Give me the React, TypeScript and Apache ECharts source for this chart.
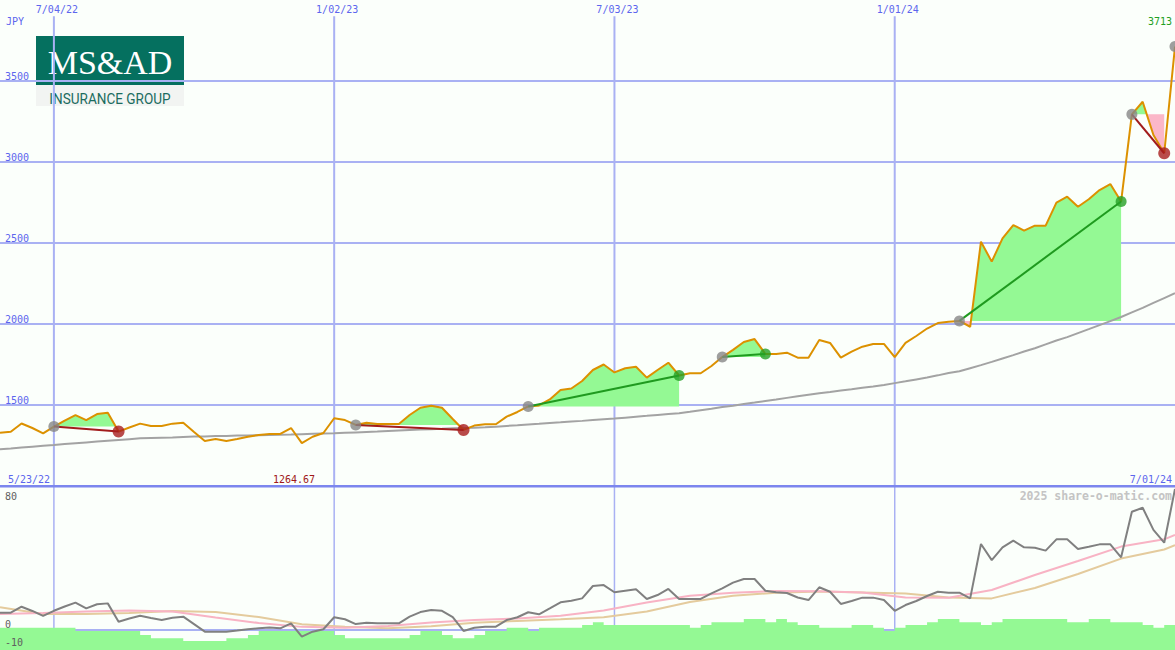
import React, { useEffect, useRef } from 'react';
import * as echarts from 'echarts';

// ---- data (weekly, index 0 = 5/30/22 ... index 109 = 7/01/24) ----
const tickIdx = [5, 31, 57, 83];
const tickLabels = ['7/04/22', '1/02/23', '7/03/23', '1/01/24'];

const price = [
  1329, 1335, 1386, 1358, 1325, 1367, 1404, 1438, 1407, 1444,
  1452, 1336, 1361, 1385, 1370, 1370, 1385, 1391, 1333, 1278,
  1290, 1278, 1290, 1304, 1315, 1321, 1321, 1358, 1264.67, 1304,
  1327, 1418, 1407, 1377, 1391, 1383, 1383, 1383, 1438, 1483,
  1496, 1483, 1414, 1346, 1373, 1381, 1381, 1428, 1457, 1491,
  1497, 1534, 1593, 1602, 1648, 1716, 1750, 1701, 1727, 1736,
  1669, 1716, 1761, 1682, 1696, 1696, 1741, 1796, 1840, 1889,
  1907, 1815, 1815, 1823, 1792, 1792, 1901, 1883, 1792, 1829,
  1860, 1877, 1877, 1796, 1883, 1926, 1972, 2006, 2014, 2019,
  1983, 2508, 2385, 2529, 2611, 2576, 2607, 2607, 2749, 2786,
  2724, 2770, 2827, 2864, 2756, 3294, 3372, 3167, 3054, 3713,
];

const priceMA = [
  1227, 1232, 1238, 1243, 1248, 1253, 1259, 1264, 1269, 1274,
  1279, 1284, 1289, 1294, 1296, 1298, 1300, 1303, 1305, 1306,
  1308, 1309, 1311, 1312, 1314, 1315, 1317, 1318, 1320, 1322,
  1324, 1325, 1328, 1331, 1334, 1336, 1339, 1342, 1345, 1348,
  1351, 1353, 1356, 1358, 1360, 1362, 1366, 1371, 1375, 1380,
  1384, 1389, 1393, 1398, 1402, 1407, 1412, 1416, 1422, 1428,
  1433, 1439, 1444, 1449, 1458, 1468, 1477, 1487, 1496, 1506,
  1515, 1525, 1534, 1544, 1554, 1563, 1572, 1580, 1589, 1597,
  1606, 1614, 1624, 1635, 1646, 1658, 1670, 1683, 1697, 1708,
  1727, 1746, 1766, 1787, 1808, 1830, 1850, 1874, 1898, 1919,
  1944, 1968, 1993, 2018, 2043, 2072, 2100, 2130, 2160, 2190,
];

const tradeStart = [5, 33, 49, 67, 89, 105];
const tradeEnd = [11, 43, 63, 71, 104, 108];
const openIdx = [109];

const osc = [
  9.4, 9.4, 12.6, 10.3, 7.6, 10.4, 12.7, 14.8, 11.7, 13.9,
  14.4, 4.5, 6.2, 7.7, 6.5, 5.4, 6.6, 7.2, 3.2, -0.9,
  -0.9, -0.9, -0.3, 0.4, 0.9, 1.4, 0.9, 3.6, -3.6, -0.9,
  0.4, 6.9, 5.8, 3.2, 3.9, 3.6, 3.6, 3.6, 7.2, 9.7,
  10.8, 10.4, 7.0, -0.5, 1.2, 1.8, 1.8, 5.4, 6.9, 9.6,
  8.5, 11.7, 15.0, 15.8, 17.1, 23.8, 24.3, 20.4, 21.2, 22.0,
  16.8, 18.9, 22.2, 16.8, 16.8, 16.8, 19.8, 22.5, 25.6, 27.6,
  27.6, 21.2, 20.4, 20.0, 17.6, 16.2, 23.1, 20.7, 14.1, 15.7,
  17.5, 17.5, 16.2, 10.4, 13.5, 15.7, 18.4, 20.7, 20.2, 20.2,
  17.1, 46.5, 37.8, 44.7, 48.3, 44.7, 44.5, 42.9, 49.0, 49.0,
  43.8, 45.0, 46.3, 46.3, 39.3, 63.9, 66.1, 54.1, 47.2, 76.2,
];

const maIdx = [0, 4, 8, 12, 16, 20, 24, 28, 32, 36, 40, 44, 48, 52, 56, 60, 64, 68, 72, 76, 80, 84, 88, 92, 96, 100, 104, 108, 109];
const oscFast = [8.6, 9.2, 10.0, 10.5, 10.0, 6.8, 3.8, 1.7, 1.2, 2.2, 4.1, 5.4, 6.2, 7.7, 10.5, 14.9, 18.5, 20.1, 21.1, 20.9, 20.3, 17.6, 17.5, 21.6, 29.7, 37.3, 45.1, 49.0, 51.4];
const oscSlow = [12.3, 8.6, 8.6, 9.2, 10.3, 9.7, 7.0, 3.1, 1.8, 0.9, 2.0, 3.9, 4.9, 5.8, 6.9, 10.0, 15.1, 18.5, 20.2, 20.8, 20.3, 19.7, 17.6, 17.1, 22.7, 30.3, 38.6, 43.5, 45.9];

const strength = [
  1.2, 1.2, 1.2, 1.2, 1.2, 1.2, 1.2, -0.5, -0.5, -0.5,
  -0.5, -0.5, -0.5, -2.7, -4.5, -4.5, -4.5, -6.0, -6.0, -6.0,
  -6.0, -4.5, -4.5, -2.7, -0.5, -0.5, -0.5, -0.5, -0.5, -0.5,
  -0.5, -2.7, -4.5, -4.5, -4.5, -4.5, -4.5, -4.5, -2.7, -0.5,
  -0.5, -2.7, -4.5, -4.5, -2.7, -0.5, -0.5, 1.2, 1.2, -0.5,
  1.2, 1.2, 1.2, 1.2, 2.7, 4.2, 2.7, 2.7, 2.7, 2.7,
  2.7, 2.7, 2.7, 2.7, 1.2, 2.7, 4.2, 4.2, 4.2, 6.0,
  6.0, 4.2, 6.0, 4.2, 2.7, 2.7, 1.2, 1.2, 1.2, 2.7,
  2.7, 1.2, -0.5, 1.2, 2.7, 2.7, 4.2, 6.0, 6.0, 4.2,
  4.2, 2.7, 4.2, 6.0, 6.0, 6.0, 6.0, 6.0, 6.0, 4.2,
  4.2, 6.0, 6.0, 4.2, 4.2, 4.2, 2.7, 1.2, 2.7, 2.7,
];

const lastPriceLabel = '3713';
const minPriceLabel = '1264.67';
const startDateLabel = '5/23/22';
const endDateLabel = '7/01/24';

// ---- styles ----
const MAIN_MIN = 1000;
const MAIN_MAX = 4000;
const LOW_MIN = -10.8;
const LOW_MAX = 77.3;
const MONO = '"DejaVu Sans Mono", monospace';
const GRID_C = '#a9b1f3';
const AXIS_TXT = '#5c66ee';
const GREEN_FILL = '#94f994';
const PINK_FILL = '#fbb7c8';

function txt(x: number, y: number, text: string, fill: string, align: string, font = `10px ${MONO}`) {
  return {
    type: 'text', x, y, silent: true, z: 50,
    style: { text, fill, font, align, textAlign: align, verticalAlign: 'middle', textVerticalAlign: 'middle' },
  };
}

function buildOption(): any {
  const pts = (arr: number[]) => arr.map((v, i) => [i, v]);
  return {
    animation: false,
    backgroundColor: '#fbfffb',
    grid: [
      { left: 0, right: 0, top: 0, height: 486 },
      { left: 0, right: 0, top: 487, height: 163 },
    ],
    xAxis: [
      { gridIndex: 0, type: 'value', min: 0, max: 109, show: false },
      { gridIndex: 1, type: 'value', min: 0, max: 109, show: false },
    ],
    yAxis: [
      {
        gridIndex: 0, type: 'value', min: MAIN_MIN, max: MAIN_MAX, interval: 500,
        axisLine: { show: false }, axisTick: { show: false },
        splitLine: { show: true, showMinLine: false, showMaxLine: false, lineStyle: { color: GRID_C, width: 2 } },
        axisLabel: {
          inside: true, margin: 5, verticalAlign: 'bottom', color: AXIS_TXT,
          fontFamily: MONO, fontSize: 10, showMinLabel: false, showMaxLabel: false,
          formatter: (v: number) => String(v),
        },
      },
      { gridIndex: 1, type: 'value', min: LOW_MIN, max: LOW_MAX, show: false },
    ],
    series: [
      // vertical date lines, main panel
      {
        type: 'custom', xAxisIndex: 0, yAxisIndex: 0, z: 1, silent: true,
        data: tickIdx.map((v) => [v, MAIN_MIN]),
        renderItem: (params: any, api: any) => {
          const v = api.value(0);
          const p0 = api.coord([v, MAIN_MIN]);
          const p1 = api.coord([v, 3900]);
          return {
            type: 'group',
            children: [
              { type: 'line', shape: { x1: p0[0], y1: p0[1], x2: p1[0], y2: p1[1] }, style: { stroke: GRID_C, lineWidth: 2 } },
              {
                type: 'text', x: p1[0] + 3, y: p1[1] - 7,
                style: { text: tickLabels[params.dataIndex], fill: AXIS_TXT, font: `10px ${MONO}`, align: 'center', textAlign: 'center', verticalAlign: 'middle', textVerticalAlign: 'middle' },
              },
            ],
          };
        },
      },
      // vertical date lines, lower panel
      {
        type: 'custom', xAxisIndex: 1, yAxisIndex: 1, z: 1, silent: true,
        data: tickIdx.map((v) => [v, LOW_MIN]),
        renderItem: (params: any, api: any) => {
          const v = api.value(0);
          const p0 = api.coord([v, LOW_MIN]);
          const p1 = api.coord([v, LOW_MAX]);
          return { type: 'line', shape: { x1: p0[0], y1: p0[1], x2: p1[0], y2: p1[1] }, style: { stroke: GRID_C, lineWidth: 1.5 } };
        },
      },
      // trade fills
      {
        type: 'custom', xAxisIndex: 0, yAxisIndex: 0, z: 2, silent: true,
        data: tradeStart.map((s) => [s, price[s]]),
        renderItem: (params: any, api: any) => {
          const k = params.dataIndex;
          const s = tradeStart[k];
          const e = tradeEnd[k];
          const L = price[s];
          const up: number[][] = [];
          const dn: number[][] = [];
          for (let i = s; i <= e; i++) {
            if (i > s) {
              const a = price[i - 1] - L;
              const b = price[i] - L;
              if ((a > 0 && b < 0) || (a < 0 && b > 0)) {
                const xc = i - 1 + a / (a - b);
                up.push(api.coord([xc, L]));
                dn.push(api.coord([xc, L]));
              }
            }
            up.push(api.coord([i, Math.max(price[i], L)]));
            dn.push(api.coord([i, Math.min(price[i], L)]));
          }
          const base = [api.coord([e, L]), api.coord([s, L])];
          return {
            type: 'group',
            children: [
              { type: 'polygon', shape: { points: up.concat(base) }, style: { fill: GREEN_FILL } },
              { type: 'polygon', shape: { points: dn.concat(base) }, style: { fill: PINK_FILL } },
            ],
          };
        },
      },
      // long moving average
      {
        type: 'line', xAxisIndex: 0, yAxisIndex: 0, z: 3, silent: true,
        data: pts(priceMA), showSymbol: false,
        lineStyle: { color: '#a3a3a3', width: 2 },
      },
      // price
      {
        type: 'line', xAxisIndex: 0, yAxisIndex: 0, z: 4, silent: true,
        data: pts(price), showSymbol: false,
        lineStyle: { color: '#dc9100', width: 2 },
      },
      // trend lines of trades
      {
        type: 'custom', xAxisIndex: 0, yAxisIndex: 0, z: 5, silent: true,
        data: tradeStart.map((s) => [s, price[s]]),
        renderItem: (params: any, api: any) => {
          const k = params.dataIndex;
          const s = tradeStart[k];
          const e = tradeEnd[k];
          const a = api.coord([s, price[s]]);
          const b = api.coord([e, price[e]]);
          const upMove = price[e] >= price[s];
          return {
            type: 'line', shape: { x1: a[0], y1: a[1], x2: b[0], y2: b[1] },
            style: { stroke: upMove ? '#1f9a1f' : '#a21c1c', lineWidth: 2 },
          };
        },
      },
      // markers
      {
        type: 'scatter', xAxisIndex: 0, yAxisIndex: 0, z: 6, silent: true, symbolSize: 11,
        data: tradeStart.concat(openIdx).map((s) => [s, price[s]]),
        itemStyle: { color: '#878787' },
      },
      {
        type: 'scatter', xAxisIndex: 0, yAxisIndex: 0, z: 6, silent: true, symbolSize: 11,
        data: tradeEnd.filter((e, k) => price[e] >= price[tradeStart[k]]).map((e) => [e, price[e]]),
        itemStyle: { color: '#26a026' },
      },
      {
        type: 'scatter', xAxisIndex: 0, yAxisIndex: 0, z: 6, silent: true, symbolSize: 12,
        data: tradeEnd.filter((e, k) => price[e] < price[tradeStart[k]]).map((e) => [e, price[e]]),
        itemStyle: { color: '#a91e1e' },
      },
      // lower panel: zero line
      {
        type: 'line', xAxisIndex: 1, yAxisIndex: 1, z: 1, silent: true,
        data: [[0, 0], [109, 0]], showSymbol: false,
        lineStyle: { color: GRID_C, width: 2 },
      },
      // lower panel: strength steps
      {
        type: 'line', xAxisIndex: 1, yAxisIndex: 1, z: 2, silent: true,
        data: pts(strength), showSymbol: false, step: 'end',
        lineStyle: { width: 0 },
        areaStyle: { color: GREEN_FILL, opacity: 1, origin: 'start' },
      },
      {
        type: 'line', xAxisIndex: 1, yAxisIndex: 1, z: 3, silent: true,
        data: maIdx.map((x, i) => [x, oscSlow[i]]), showSymbol: false,
        lineStyle: { color: '#e4cb9d', width: 2 },
      },
      {
        type: 'line', xAxisIndex: 1, yAxisIndex: 1, z: 3, silent: true,
        data: maIdx.map((x, i) => [x, oscFast[i]]), showSymbol: false,
        lineStyle: { color: '#f8b3c4', width: 2 },
      },
      {
        type: 'line', xAxisIndex: 1, yAxisIndex: 1, z: 4, silent: true,
        data: pts(osc), showSymbol: false,
        lineStyle: { color: '#808080', width: 2 },
      },
    ],
    graphic: [
      { type: 'rect', silent: true, z: 40, shape: { x: 0, y: 485, width: 1175, height: 2.5 }, style: { fill: '#7c86ee' } },
      {
        type: 'group', x: 36, y: 36, z: 45, silent: true,
        children: [
          { type: 'rect', shape: { x: 0, y: 0, width: 148, height: 49 }, style: { fill: '#05705f' } },
          { type: 'rect', shape: { x: 0, y: 49, width: 148, height: 21 }, style: { fill: '#f2f4f2' } },
          {
            type: 'text', x: 74, y: 26,
            style: { text: 'MS&AD', fill: '#ffffff', font: '34px "Liberation Serif", serif', align: 'center', textAlign: 'center', verticalAlign: 'middle', textVerticalAlign: 'middle' },
          },
          {
            type: 'text', x: 74, y: 63, scaleX: 0.97,
            style: { text: 'INSURANCE GROUP', fill: '#1c6c5f', font: '14px Roboto, sans-serif', align: 'center', textAlign: 'center', verticalAlign: 'middle', textVerticalAlign: 'middle' },
          },
        ],
      },
      txt(6, 21, 'JPY', AXIS_TXT, 'left'),
      txt(1172, 21, lastPriceLabel, '#22a022', 'right'),
      txt(8, 479, startDateLabel, AXIS_TXT, 'left'),
      txt(1172, 479, endDateLabel, AXIS_TXT, 'right'),
      txt(294, 479, minPriceLabel, '#a01818', 'center'),
      txt(5, 496, '80', '#606060', 'left'),
      txt(5, 624, '0', '#606060', 'left'),
      txt(5, 642, '-10', '#606060', 'left'),
      txt(1172, 496, '2025 share-o-matic.com', '#c4c4c4', 'right', `bold 11.5px ${MONO}`),
    ],
  };
}

export default function App() {
  const ref = useRef<HTMLDivElement>(null);
  useEffect(() => {
    if (!ref.current) return;
    const chart = echarts.init(ref.current, null, { renderer: 'svg' });
    chart.setOption(buildOption());
    return () => chart.dispose();
  }, []);
  return (
    <div
      ref={ref}
      style={{ position: 'absolute', left: 0, top: 0, width: 1175, height: 650 }}
    />
  );
}
